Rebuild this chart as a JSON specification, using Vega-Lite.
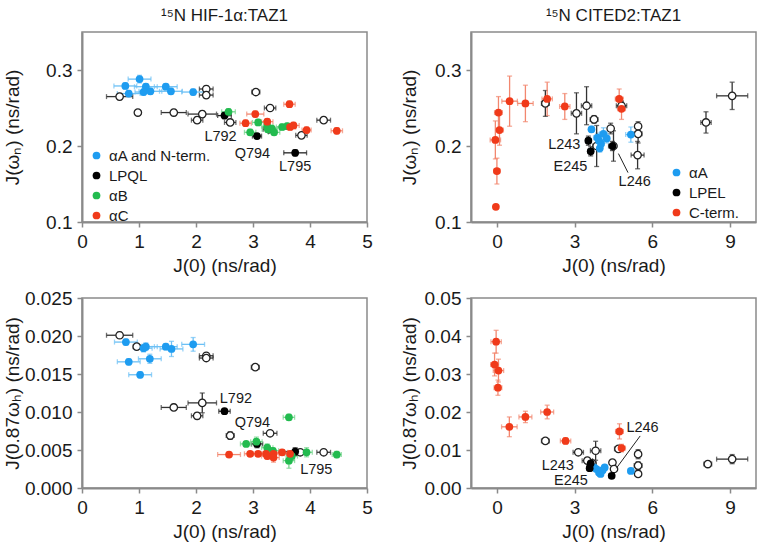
{
  "$schema": "https://vega.github.io/schema/vega-lite/v6.json",
  "padding": {"left": 2, "top": 6, "right": 0, "bottom": 0},
  "config": {
    "font": "Liberation Sans",
    "view": {"stroke": "#8a8a8a", "strokeWidth": 1.5},
    "axis": {"domainColor": "#8a8a8a", "domainWidth": 2, "tickColor": "#8a8a8a", "tickWidth": 1.5, "tickSize": 5, "labelFontSize": 19, "titleFontSize": 19, "labelColor": "#1a1a1a", "titleColor": "#1a1a1a", "grid": false, "titleFontWeight": "normal", "labelPadding": 5, "titlePadding": 5, "labelFlush": false},
    "title": {"fontSize": 17, "fontWeight": "normal", "color": "#1a1a1a", "offset": 7},
    "legend": {"labelFontSize": 15, "labelColor": "#1a1a1a", "symbolSize": 60, "symbolType": "circle", "rowPadding": 4, "labelOffset": 5, "padding": 0, "symbolStrokeWidth": 0}
  },
  "resolve": {"scale": {"fill": "independent", "color": "independent"}, "legend": {"fill": "independent", "color": "independent"}},
  "datasets": {
    "tl": [
      {"g": "αA and N-term.", "x": 0.76, "y": 0.279, "xe": 0.2, "ye": 0.004},
      {"g": "αA and N-term.", "x": 1.01, "y": 0.288, "xe": 0.2, "ye": 0.005},
      {"g": "αA and N-term.", "x": 0.82, "y": 0.269, "xe": 0.2, "ye": 0.004},
      {"g": "αA and N-term.", "x": 1.12, "y": 0.278, "xe": 0.2, "ye": 0.004},
      {"g": "αA and N-term.", "x": 1.08, "y": 0.271, "xe": 0.15, "ye": 0.004},
      {"g": "αA and N-term.", "x": 1.2, "y": 0.272, "xe": 0.2, "ye": 0.004},
      {"g": "αA and N-term.", "x": 1.47, "y": 0.278, "xe": 0.2, "ye": 0.004},
      {"g": "αA and N-term.", "x": 1.56, "y": 0.272, "xe": 0.2, "ye": 0.004},
      {"g": "αA and N-term.", "x": 1.95, "y": 0.271, "xe": 0.2, "ye": 0.004},
      {"g": "LPQL", "x": 2.5, "y": 0.24, "xe": 0.12, "ye": 0.004},
      {"g": "LPQL", "x": 3.07, "y": 0.213, "xe": 0.08, "ye": 0.003},
      {"g": "LPQL", "x": 3.74, "y": 0.191, "xe": 0.2, "ye": 0.004},
      {"g": "αB", "x": 2.57, "y": 0.245, "xe": 0.12, "ye": 0.004},
      {"g": "αB", "x": 2.95, "y": 0.218, "xe": 0.1, "ye": 0.004},
      {"g": "αB", "x": 3.09, "y": 0.231, "xe": 0.1, "ye": 0.004},
      {"g": "αB", "x": 3.25, "y": 0.226, "xe": 0.1, "ye": 0.004},
      {"g": "αB", "x": 3.26, "y": 0.222, "xe": 0.1, "ye": 0.004},
      {"g": "αB", "x": 3.33, "y": 0.223, "xe": 0.1, "ye": 0.004},
      {"g": "αB", "x": 3.37, "y": 0.218, "xe": 0.1, "ye": 0.004},
      {"g": "αB", "x": 3.51, "y": 0.225, "xe": 0.1, "ye": 0.004},
      {"g": "αB", "x": 3.6, "y": 0.226, "xe": 0.1, "ye": 0.004},
      {"g": "αC", "x": 2.87, "y": 0.23, "xe": 0.1, "ye": 0.004},
      {"g": "αC", "x": 3.04, "y": 0.242, "xe": 0.15, "ye": 0.004},
      {"g": "αC", "x": 3.25, "y": 0.232, "xe": 0.1, "ye": 0.004},
      {"g": "αC", "x": 3.64, "y": 0.255, "xe": 0.1, "ye": 0.004},
      {"g": "αC", "x": 3.65, "y": 0.225, "xe": 0.1, "ye": 0.004},
      {"g": "αC", "x": 3.71, "y": 0.227, "xe": 0.1, "ye": 0.004},
      {"g": "αC", "x": 3.94, "y": 0.221, "xe": 0.08, "ye": 0.004},
      {"g": "αC", "x": 4.47, "y": 0.22, "xe": 0.1, "ye": 0.004},
      {"g": "open", "x": 0.66, "y": 0.265, "xe": 0.23, "ye": 0.004},
      {"g": "open", "x": 0.98, "y": 0.244, "xe": 0.05, "ye": 0.003},
      {"g": "open", "x": 1.61, "y": 0.244, "xe": 0.22, "ye": 0.004},
      {"g": "open", "x": 2.11, "y": 0.242, "xe": 0.25, "ye": 0.004},
      {"g": "open", "x": 2.02, "y": 0.234, "xe": 0.1, "ye": 0.004},
      {"g": "open", "x": 2.18, "y": 0.275, "xe": 0.12, "ye": 0.004},
      {"g": "open", "x": 2.18, "y": 0.267, "xe": 0.12, "ye": 0.004},
      {"g": "open", "x": 2.6, "y": 0.231, "xe": 0.1, "ye": 0.004},
      {"g": "open", "x": 3.05, "y": 0.271, "xe": 0.07, "ye": 0.003},
      {"g": "open", "x": 3.3, "y": 0.25, "xe": 0.1, "ye": 0.003},
      {"g": "open", "x": 4.24, "y": 0.234, "xe": 0.12, "ye": 0.003},
      {"g": "open", "x": 3.85, "y": 0.214, "xe": 0.1, "ye": 0.003},
      {"g": "open", "x": 3.28, "y": 0.222, "xe": 0.1, "ye": 0.003}
    ],
    "tlLab": [
      {"t": "L792", "x": 2.43, "y": 0.212},
      {"t": "Q794", "x": 2.99, "y": 0.189},
      {"t": "L795", "x": 3.74, "y": 0.1725}
    ],
    "tr": [
      {"g": "C-term.", "x": -0.04, "y": 0.12, "xe": 0, "ye": 0},
      {"g": "C-term.", "x": 0.0, "y": 0.167, "xe": 0.12, "ye": 0.017},
      {"g": "C-term.", "x": -0.06, "y": 0.208, "xe": 0.2, "ye": 0.025},
      {"g": "C-term.", "x": 0.1, "y": 0.221, "xe": 0.15, "ye": 0.02},
      {"g": "C-term.", "x": 0.06, "y": 0.244, "xe": 0.15, "ye": 0.021},
      {"g": "C-term.", "x": 0.49, "y": 0.259, "xe": 0.3, "ye": 0.033},
      {"g": "C-term.", "x": 1.1, "y": 0.256, "xe": 0.3, "ye": 0.024},
      {"g": "C-term.", "x": 1.94, "y": 0.262, "xe": 0.2, "ye": 0.022},
      {"g": "C-term.", "x": 2.62, "y": 0.252, "xe": 0.2, "ye": 0.017},
      {"g": "C-term.", "x": 4.72, "y": 0.262, "xe": 0.15, "ye": 0.013},
      {"g": "C-term.", "x": 4.81, "y": 0.249, "xe": 0.15, "ye": 0.014},
      {"g": "αA", "x": 3.65, "y": 0.222, "xe": 0.1, "ye": 0.004},
      {"g": "αA", "x": 3.88, "y": 0.211, "xe": 0.15, "ye": 0.006},
      {"g": "αA", "x": 3.97, "y": 0.197, "xe": 0.1, "ye": 0.005},
      {"g": "αA", "x": 4.11, "y": 0.216, "xe": 0.15, "ye": 0.008},
      {"g": "αA", "x": 4.24, "y": 0.21, "xe": 0.1, "ye": 0.006},
      {"g": "αA", "x": 3.94, "y": 0.207, "xe": 0.1, "ye": 0.006},
      {"g": "αA", "x": 5.17, "y": 0.215, "xe": 0.2, "ye": 0.01},
      {"g": "αA", "x": 4.02, "y": 0.203, "xe": 0.1, "ye": 0.005},
      {"g": "LPEL", "x": 3.53, "y": 0.207, "xe": 0.1, "ye": 0.006},
      {"g": "LPEL", "x": 3.62, "y": 0.193, "xe": 0.1, "ye": 0.006},
      {"g": "LPEL", "x": 4.46, "y": 0.2, "xe": 0.15, "ye": 0.006},
      {"g": "open", "x": 1.87, "y": 0.256, "xe": 0.15, "ye": 0.017},
      {"g": "open", "x": 3.07, "y": 0.243, "xe": 0.2, "ye": 0.027},
      {"g": "open", "x": 3.46, "y": 0.253, "xe": 0.2, "ye": 0.025},
      {"g": "open", "x": 3.75, "y": 0.235, "xe": 0.15, "ye": 0.005},
      {"g": "open", "x": 4.39, "y": 0.223, "xe": 0.1, "ye": 0.007},
      {"g": "open", "x": 5.45, "y": 0.226, "xe": 0.1, "ye": 0.006},
      {"g": "open", "x": 5.45, "y": 0.216, "xe": 0.15, "ye": 0.012},
      {"g": "open", "x": 5.43, "y": 0.188, "xe": 0.25, "ye": 0.018},
      {"g": "open", "x": 4.81, "y": 0.253, "xe": 0.2, "ye": 0.006},
      {"g": "open", "x": 8.07, "y": 0.231, "xe": 0.2, "ye": 0.014},
      {"g": "open", "x": 9.08, "y": 0.266, "xe": 0.6, "ye": 0.018},
      {"g": "open", "x": 4.5, "y": 0.2, "xe": 0.1, "ye": 0.02},
      {"g": "open", "x": 3.85, "y": 0.2, "xe": 0.15, "ye": 0.027}
    ],
    "trLab": [
      {"t": "L243", "x": 2.6, "y": 0.2007},
      {"t": "E245", "x": 2.84, "y": 0.173},
      {"t": "L246", "x": 5.32, "y": 0.152}
    ],
    "trLine": [{"x": 4.69, "y": 0.19, "x2": 5.06, "y2": 0.165}],
    "bl": [
      {"g": "αA and N-term.", "x": 0.77, "y": 0.0192, "xe": 0.2, "ye": 0.0004},
      {"g": "αA and N-term.", "x": 1.08, "y": 0.0184, "xe": 0.15, "ye": 0.0005},
      {"g": "αA and N-term.", "x": 1.12, "y": 0.0186, "xe": 0.2, "ye": 0.0005},
      {"g": "αA and N-term.", "x": 1.47, "y": 0.0186, "xe": 0.2, "ye": 0.0004},
      {"g": "αA and N-term.", "x": 1.57, "y": 0.0183, "xe": 0.2, "ye": 0.001},
      {"g": "αA and N-term.", "x": 1.95, "y": 0.0189, "xe": 0.2, "ye": 0.0009},
      {"g": "αA and N-term.", "x": 0.82, "y": 0.0166, "xe": 0.2, "ye": 0.0004},
      {"g": "αA and N-term.", "x": 1.19, "y": 0.017, "xe": 0.2, "ye": 0.0006},
      {"g": "αA and N-term.", "x": 1.02, "y": 0.0149, "xe": 0.2, "ye": 0.0004},
      {"g": "LPQL", "x": 2.5, "y": 0.0101, "xe": 0.1, "ye": 0.0003},
      {"g": "LPQL", "x": 3.07, "y": 0.0058, "xe": 0.1, "ye": 0.0005},
      {"g": "LPQL", "x": 3.74, "y": 0.0048, "xe": 0.2, "ye": 0.0005},
      {"g": "αB", "x": 2.88, "y": 0.0058, "xe": 0.1, "ye": 0.0003},
      {"g": "αB", "x": 3.06, "y": 0.0061, "xe": 0.1, "ye": 0.0006},
      {"g": "αB", "x": 3.25, "y": 0.0053, "xe": 0.1, "ye": 0.0005},
      {"g": "αB", "x": 3.35, "y": 0.0049, "xe": 0.1, "ye": 0.0004},
      {"g": "αB", "x": 3.63, "y": 0.0093, "xe": 0.1, "ye": 0.0004},
      {"g": "αB", "x": 3.63, "y": 0.0036, "xe": 0.1, "ye": 0.001},
      {"g": "αB", "x": 3.68, "y": 0.0042, "xe": 0.1, "ye": 0.0005},
      {"g": "αB", "x": 3.94, "y": 0.0047, "xe": 0.1, "ye": 0.0006},
      {"g": "αB", "x": 4.47, "y": 0.0044, "xe": 0.08, "ye": 0.0004},
      {"g": "αC", "x": 2.58, "y": 0.0044, "xe": 0.2, "ye": 0.0003},
      {"g": "αC", "x": 2.95, "y": 0.0045, "xe": 0.1, "ye": 0.0003},
      {"g": "αC", "x": 3.09, "y": 0.0045, "xe": 0.08, "ye": 0.0003},
      {"g": "αC", "x": 3.23, "y": 0.0045, "xe": 0.08, "ye": 0.0004},
      {"g": "αC", "x": 3.25, "y": 0.0042, "xe": 0.1, "ye": 0.0004},
      {"g": "αC", "x": 3.36, "y": 0.0045, "xe": 0.1, "ye": 0.0004},
      {"g": "αC", "x": 3.36, "y": 0.004, "xe": 0.1, "ye": 0.0006},
      {"g": "αC", "x": 3.51, "y": 0.0047, "xe": 0.1, "ye": 0.0003},
      {"g": "αC", "x": 3.65, "y": 0.0045, "xe": 0.1, "ye": 0.0003},
      {"g": "open", "x": 0.66, "y": 0.0201, "xe": 0.23, "ye": 0.0004},
      {"g": "open", "x": 0.96, "y": 0.0186, "xe": 0.06, "ye": 0.0003},
      {"g": "open", "x": 2.18, "y": 0.0174, "xe": 0.12, "ye": 0.0003},
      {"g": "open", "x": 2.18, "y": 0.0171, "xe": 0.12, "ye": 0.0003},
      {"g": "open", "x": 3.04, "y": 0.0159, "xe": 0.07, "ye": 0.0003},
      {"g": "open", "x": 1.61, "y": 0.0106, "xe": 0.22, "ye": 0.0004},
      {"g": "open", "x": 2.11, "y": 0.0112, "xe": 0.25, "ye": 0.0013},
      {"g": "open", "x": 2.02, "y": 0.0095, "xe": 0.1, "ye": 0.0004},
      {"g": "open", "x": 2.6, "y": 0.0069, "xe": 0.07, "ye": 0.0005},
      {"g": "open", "x": 3.3, "y": 0.0072, "xe": 0.12, "ye": 0.0003},
      {"g": "open", "x": 4.24, "y": 0.0047, "xe": 0.12, "ye": 0.0003},
      {"g": "open", "x": 3.83, "y": 0.0047, "xe": 0.1, "ye": 0.0003}
    ],
    "blLab": [
      {"t": "L792", "x": 2.7, "y": 0.0117},
      {"t": "Q794", "x": 2.99, "y": 0.0085},
      {"t": "L795", "x": 4.11, "y": 0.0024}
    ],
    "br": [
      {"g": "C-term.", "x": -0.03, "y": 0.0385, "xe": 0.2, "ye": 0.003},
      {"g": "C-term.", "x": -0.09, "y": 0.0325, "xe": 0.15, "ye": 0.003},
      {"g": "C-term.", "x": 0.06, "y": 0.0309, "xe": 0.2, "ye": 0.003},
      {"g": "C-term.", "x": 0.04, "y": 0.0264, "xe": 0.15, "ye": 0.002},
      {"g": "C-term.", "x": 0.48, "y": 0.0161, "xe": 0.3, "ye": 0.0026},
      {"g": "C-term.", "x": 1.1, "y": 0.0187, "xe": 0.25, "ye": 0.0015},
      {"g": "C-term.", "x": 1.94, "y": 0.02, "xe": 0.25, "ye": 0.0018},
      {"g": "C-term.", "x": 2.65, "y": 0.0124, "xe": 0.2, "ye": 0.0008},
      {"g": "C-term.", "x": 4.73, "y": 0.0149, "xe": 0.15, "ye": 0.002},
      {"g": "C-term.", "x": 4.81, "y": 0.0105, "xe": 0.15, "ye": 0.001},
      {"g": "αA", "x": 3.84, "y": 0.005, "xe": 0.1, "ye": 0.0005},
      {"g": "αA", "x": 3.94, "y": 0.0041, "xe": 0.1, "ye": 0.0005},
      {"g": "αA", "x": 4.16, "y": 0.0054, "xe": 0.1, "ye": 0.0005},
      {"g": "αA", "x": 4.0, "y": 0.0037, "xe": 0.1, "ye": 0.0005},
      {"g": "αA", "x": 3.75, "y": 0.0054, "xe": 0.1, "ye": 0.0005},
      {"g": "αA", "x": 4.08, "y": 0.0047, "xe": 0.1, "ye": 0.0005},
      {"g": "αA", "x": 5.17, "y": 0.0045, "xe": 0.1, "ye": 0.0005},
      {"g": "LPEL", "x": 3.62, "y": 0.0065, "xe": 0.15, "ye": 0.0006},
      {"g": "LPEL", "x": 3.58, "y": 0.0052, "xe": 0.1, "ye": 0.0005},
      {"g": "LPEL", "x": 4.43, "y": 0.0032, "xe": 0.1, "ye": 0.0005},
      {"g": "open", "x": 1.87, "y": 0.0124, "xe": 0.15, "ye": 0.0005},
      {"g": "open", "x": 3.14, "y": 0.0094, "xe": 0.2, "ye": 0.0005},
      {"g": "open", "x": 3.81, "y": 0.0098, "xe": 0.2, "ye": 0.0025},
      {"g": "open", "x": 3.49, "y": 0.0072, "xe": 0.2, "ye": 0.0005},
      {"g": "open", "x": 3.68, "y": 0.0065, "xe": 0.15, "ye": 0.0005},
      {"g": "open", "x": 4.46, "y": 0.0067, "xe": 0.1, "ye": 0.0005},
      {"g": "open", "x": 4.52, "y": 0.005, "xe": 0.1, "ye": 0.0005},
      {"g": "open", "x": 5.45, "y": 0.0089, "xe": 0.1, "ye": 0.0012},
      {"g": "open", "x": 5.45, "y": 0.0059, "xe": 0.15, "ye": 0.001},
      {"g": "open", "x": 5.45, "y": 0.0037, "xe": 0.1, "ye": 0.0005},
      {"g": "open", "x": 8.14, "y": 0.0063, "xe": 0.15, "ye": 0.0004},
      {"g": "open", "x": 9.08, "y": 0.0076, "xe": 0.6, "ye": 0.0012},
      {"g": "open", "x": 4.69, "y": 0.0103, "xe": 0.15, "ye": 0.0005}
    ],
    "brLab": [
      {"t": "L243", "x": 2.35, "y": 0.0059},
      {"t": "E245", "x": 2.86, "y": 0.0019},
      {"t": "L246", "x": 5.62, "y": 0.0159}
    ],
    "brLine": [{"x": 4.61, "y": 0.0052, "x2": 5.53, "y2": 0.0137}]
  },
  "columns": 2,
  "spacing": {"row": 12, "column": 25},
  "concat": [
    {
      "width": 285, "height": 190,
      "title": {"text": "¹⁵N HIF-1α:TAZ1"},
      "data": {"name": "tl"},
      "encoding": {
        "x": {"field": "x", "type": "quantitative", "scale": {"domain": [0, 5], "nice": false, "zero": false}, "axis": {"values": [0, 1, 2, 3, 4, 5], "title": "J(0) (ns/rad)"}},
        "y": {"field": "y", "type": "quantitative", "scale": {"domain": [0.1, 0.35], "nice": false, "zero": false}, "axis": {"values": [0.1, 0.2, 0.3], "format": ".1f", "title": "J(ωₙ) (ns/rad)", "titleX": -60}}
      },
      "layer": [
        {"transform": [{"filter": "datum.xe > 0"}], "mark": {"type": "errorbar", "ticks": true, "thickness": 1.3}, "encoding": {"xError": {"field": "xe"}, "color": {"field": "g", "type": "nominal", "scale": {"domain": ["αA and N-term.", "LPQL", "αB", "αC", "open"], "range": ["#6cc0f5", "#222222", "#74d48c", "#f2876f", "#333333"]}, "legend": null}}},
        {"transform": [{"filter": "datum.ye > 0"}], "mark": {"type": "errorbar", "ticks": true, "thickness": 1.3}, "encoding": {"yError": {"field": "ye"}, "color": {"field": "g", "type": "nominal", "legend": null}}},
        {"transform": [{"filter": "datum.g == 'open'"}], "mark": {"type": "circle", "size": 55, "fill": "white", "stroke": "#222222", "strokeWidth": 1.3, "opacity": 1}},
        {"transform": [{"filter": "datum.g != 'open'"}], "mark": {"type": "circle", "size": 60, "opacity": 1}, "encoding": {"fill": {"field": "g", "type": "nominal", "scale": {"domain": ["αA and N-term.", "LPQL", "αB", "αC"], "range": ["#1e9cf0", "#000000", "#22bb4f", "#f03a1a"]}, "legend": {"orient": "none", "legendX": 7, "legendY": 116, "title": null}}}},
        {"data": {"name": "tlLab"}, "mark": {"type": "text", "fontSize": 14.5, "color": "#1a1a1a"}, "encoding": {"text": {"field": "t"}}}
      ]
    },
    {
      "width": 285, "height": 190,
      "title": {"text": "¹⁵N CITED2:TAZ1"},
      "data": {"name": "tr"},
      "encoding": {
        "x": {"field": "x", "type": "quantitative", "scale": {"domain": [-1, 10], "nice": false, "zero": false}, "axis": {"values": [0, 3, 6, 9], "title": "J(0) (ns/rad)"}},
        "y": {"field": "y", "type": "quantitative", "scale": {"domain": [0.1, 0.35], "nice": false, "zero": false}, "axis": {"values": [0.1, 0.2, 0.3], "format": ".1f", "title": "J(ωₙ) (ns/rad)", "titleX": -52}}
      },
      "layer": [
        {"transform": [{"filter": "datum.xe > 0"}], "mark": {"type": "errorbar", "ticks": true, "thickness": 1.3}, "encoding": {"xError": {"field": "xe"}, "color": {"field": "g", "type": "nominal", "scale": {"domain": ["αA", "LPEL", "C-term.", "open"], "range": ["#6cc0f5", "#222222", "#f2876f", "#333333"]}, "legend": null}}},
        {"transform": [{"filter": "datum.ye > 0"}], "mark": {"type": "errorbar", "ticks": true, "thickness": 1.3}, "encoding": {"yError": {"field": "ye"}, "color": {"field": "g", "type": "nominal", "legend": null}}},
        {"transform": [{"filter": "datum.g == 'open'"}], "mark": {"type": "circle", "size": 55, "fill": "white", "stroke": "#222222", "strokeWidth": 1.3, "opacity": 1}},
        {"transform": [{"filter": "datum.g != 'open'"}], "mark": {"type": "circle", "size": 60, "opacity": 1}, "encoding": {"fill": {"field": "g", "type": "nominal", "scale": {"domain": ["αA", "LPEL", "C-term."], "range": ["#1e9cf0", "#000000", "#f03a1a"]}, "legend": {"orient": "none", "legendX": 198, "legendY": 133, "title": null}}}},
        {"data": {"name": "trLine"}, "mark": {"type": "rule", "color": "#222222", "strokeWidth": 1}, "encoding": {"x2": {"field": "x2"}, "y2": {"field": "y2"}}},
        {"data": {"name": "trLab"}, "mark": {"type": "text", "fontSize": 14.5, "color": "#1a1a1a"}, "encoding": {"text": {"field": "t"}}}
      ]
    },
    {
      "width": 285, "height": 190,
      "data": {"name": "bl"},
      "encoding": {
        "x": {"field": "x", "type": "quantitative", "scale": {"domain": [0, 5], "nice": false, "zero": false}, "axis": {"values": [0, 1, 2, 3, 4, 5], "title": "J(0) (ns/rad)"}},
        "y": {"field": "y", "type": "quantitative", "scale": {"domain": [0, 0.025], "nice": false, "zero": false}, "axis": {"values": [0, 0.005, 0.01, 0.015, 0.02, 0.025], "format": ".3f", "title": "J(0.87ωₕ) (ns/rad)", "titleX": -60}}
      },
      "layer": [
        {"transform": [{"filter": "datum.xe > 0"}], "mark": {"type": "errorbar", "ticks": true, "thickness": 1.3}, "encoding": {"xError": {"field": "xe"}, "color": {"field": "g", "type": "nominal", "scale": {"domain": ["αA and N-term.", "LPQL", "αB", "αC", "open"], "range": ["#6cc0f5", "#222222", "#74d48c", "#f2876f", "#333333"]}, "legend": null}}},
        {"transform": [{"filter": "datum.ye > 0"}], "mark": {"type": "errorbar", "ticks": true, "thickness": 1.3}, "encoding": {"yError": {"field": "ye"}, "color": {"field": "g", "type": "nominal", "legend": null}}},
        {"transform": [{"filter": "datum.g == 'open'"}], "mark": {"type": "circle", "size": 55, "fill": "white", "stroke": "#222222", "strokeWidth": 1.3, "opacity": 1}},
        {"transform": [{"filter": "datum.g != 'open'"}], "mark": {"type": "circle", "size": 60, "opacity": 1}, "encoding": {"fill": {"field": "g", "type": "nominal", "scale": {"domain": ["αA and N-term.", "LPQL", "αB", "αC"], "range": ["#1e9cf0", "#000000", "#22bb4f", "#f03a1a"]}, "legend": null}}},
        {"data": {"name": "blLab"}, "mark": {"type": "text", "fontSize": 14.5, "color": "#1a1a1a"}, "encoding": {"text": {"field": "t"}}}
      ]
    },
    {
      "width": 285, "height": 190,
      "data": {"name": "br"},
      "encoding": {
        "x": {"field": "x", "type": "quantitative", "scale": {"domain": [-1, 10], "nice": false, "zero": false}, "axis": {"values": [0, 3, 6, 9], "title": "J(0) (ns/rad)"}},
        "y": {"field": "y", "type": "quantitative", "scale": {"domain": [0, 0.05], "nice": false, "zero": false}, "axis": {"values": [0, 0.01, 0.02, 0.03, 0.04, 0.05], "format": ".2f", "title": "J(0.87ωₕ) (ns/rad)", "titleX": -52}}
      },
      "layer": [
        {"transform": [{"filter": "datum.xe > 0"}], "mark": {"type": "errorbar", "ticks": true, "thickness": 1.3}, "encoding": {"xError": {"field": "xe"}, "color": {"field": "g", "type": "nominal", "scale": {"domain": ["αA", "LPEL", "C-term.", "open"], "range": ["#6cc0f5", "#222222", "#f2876f", "#333333"]}, "legend": null}}},
        {"transform": [{"filter": "datum.ye > 0"}], "mark": {"type": "errorbar", "ticks": true, "thickness": 1.3}, "encoding": {"yError": {"field": "ye"}, "color": {"field": "g", "type": "nominal", "legend": null}}},
        {"transform": [{"filter": "datum.g == 'open'"}], "mark": {"type": "circle", "size": 55, "fill": "white", "stroke": "#222222", "strokeWidth": 1.3, "opacity": 1}},
        {"transform": [{"filter": "datum.g != 'open'"}], "mark": {"type": "circle", "size": 60, "opacity": 1}, "encoding": {"fill": {"field": "g", "type": "nominal", "scale": {"domain": ["αA", "LPEL", "C-term."], "range": ["#1e9cf0", "#000000", "#f03a1a"]}, "legend": null}}},
        {"data": {"name": "brLine"}, "mark": {"type": "rule", "color": "#222222", "strokeWidth": 1}, "encoding": {"x2": {"field": "x2"}, "y2": {"field": "y2"}}},
        {"data": {"name": "brLab"}, "mark": {"type": "text", "fontSize": 14.5, "color": "#1a1a1a"}, "encoding": {"text": {"field": "t"}}}
      ]
    }
  ]
}
